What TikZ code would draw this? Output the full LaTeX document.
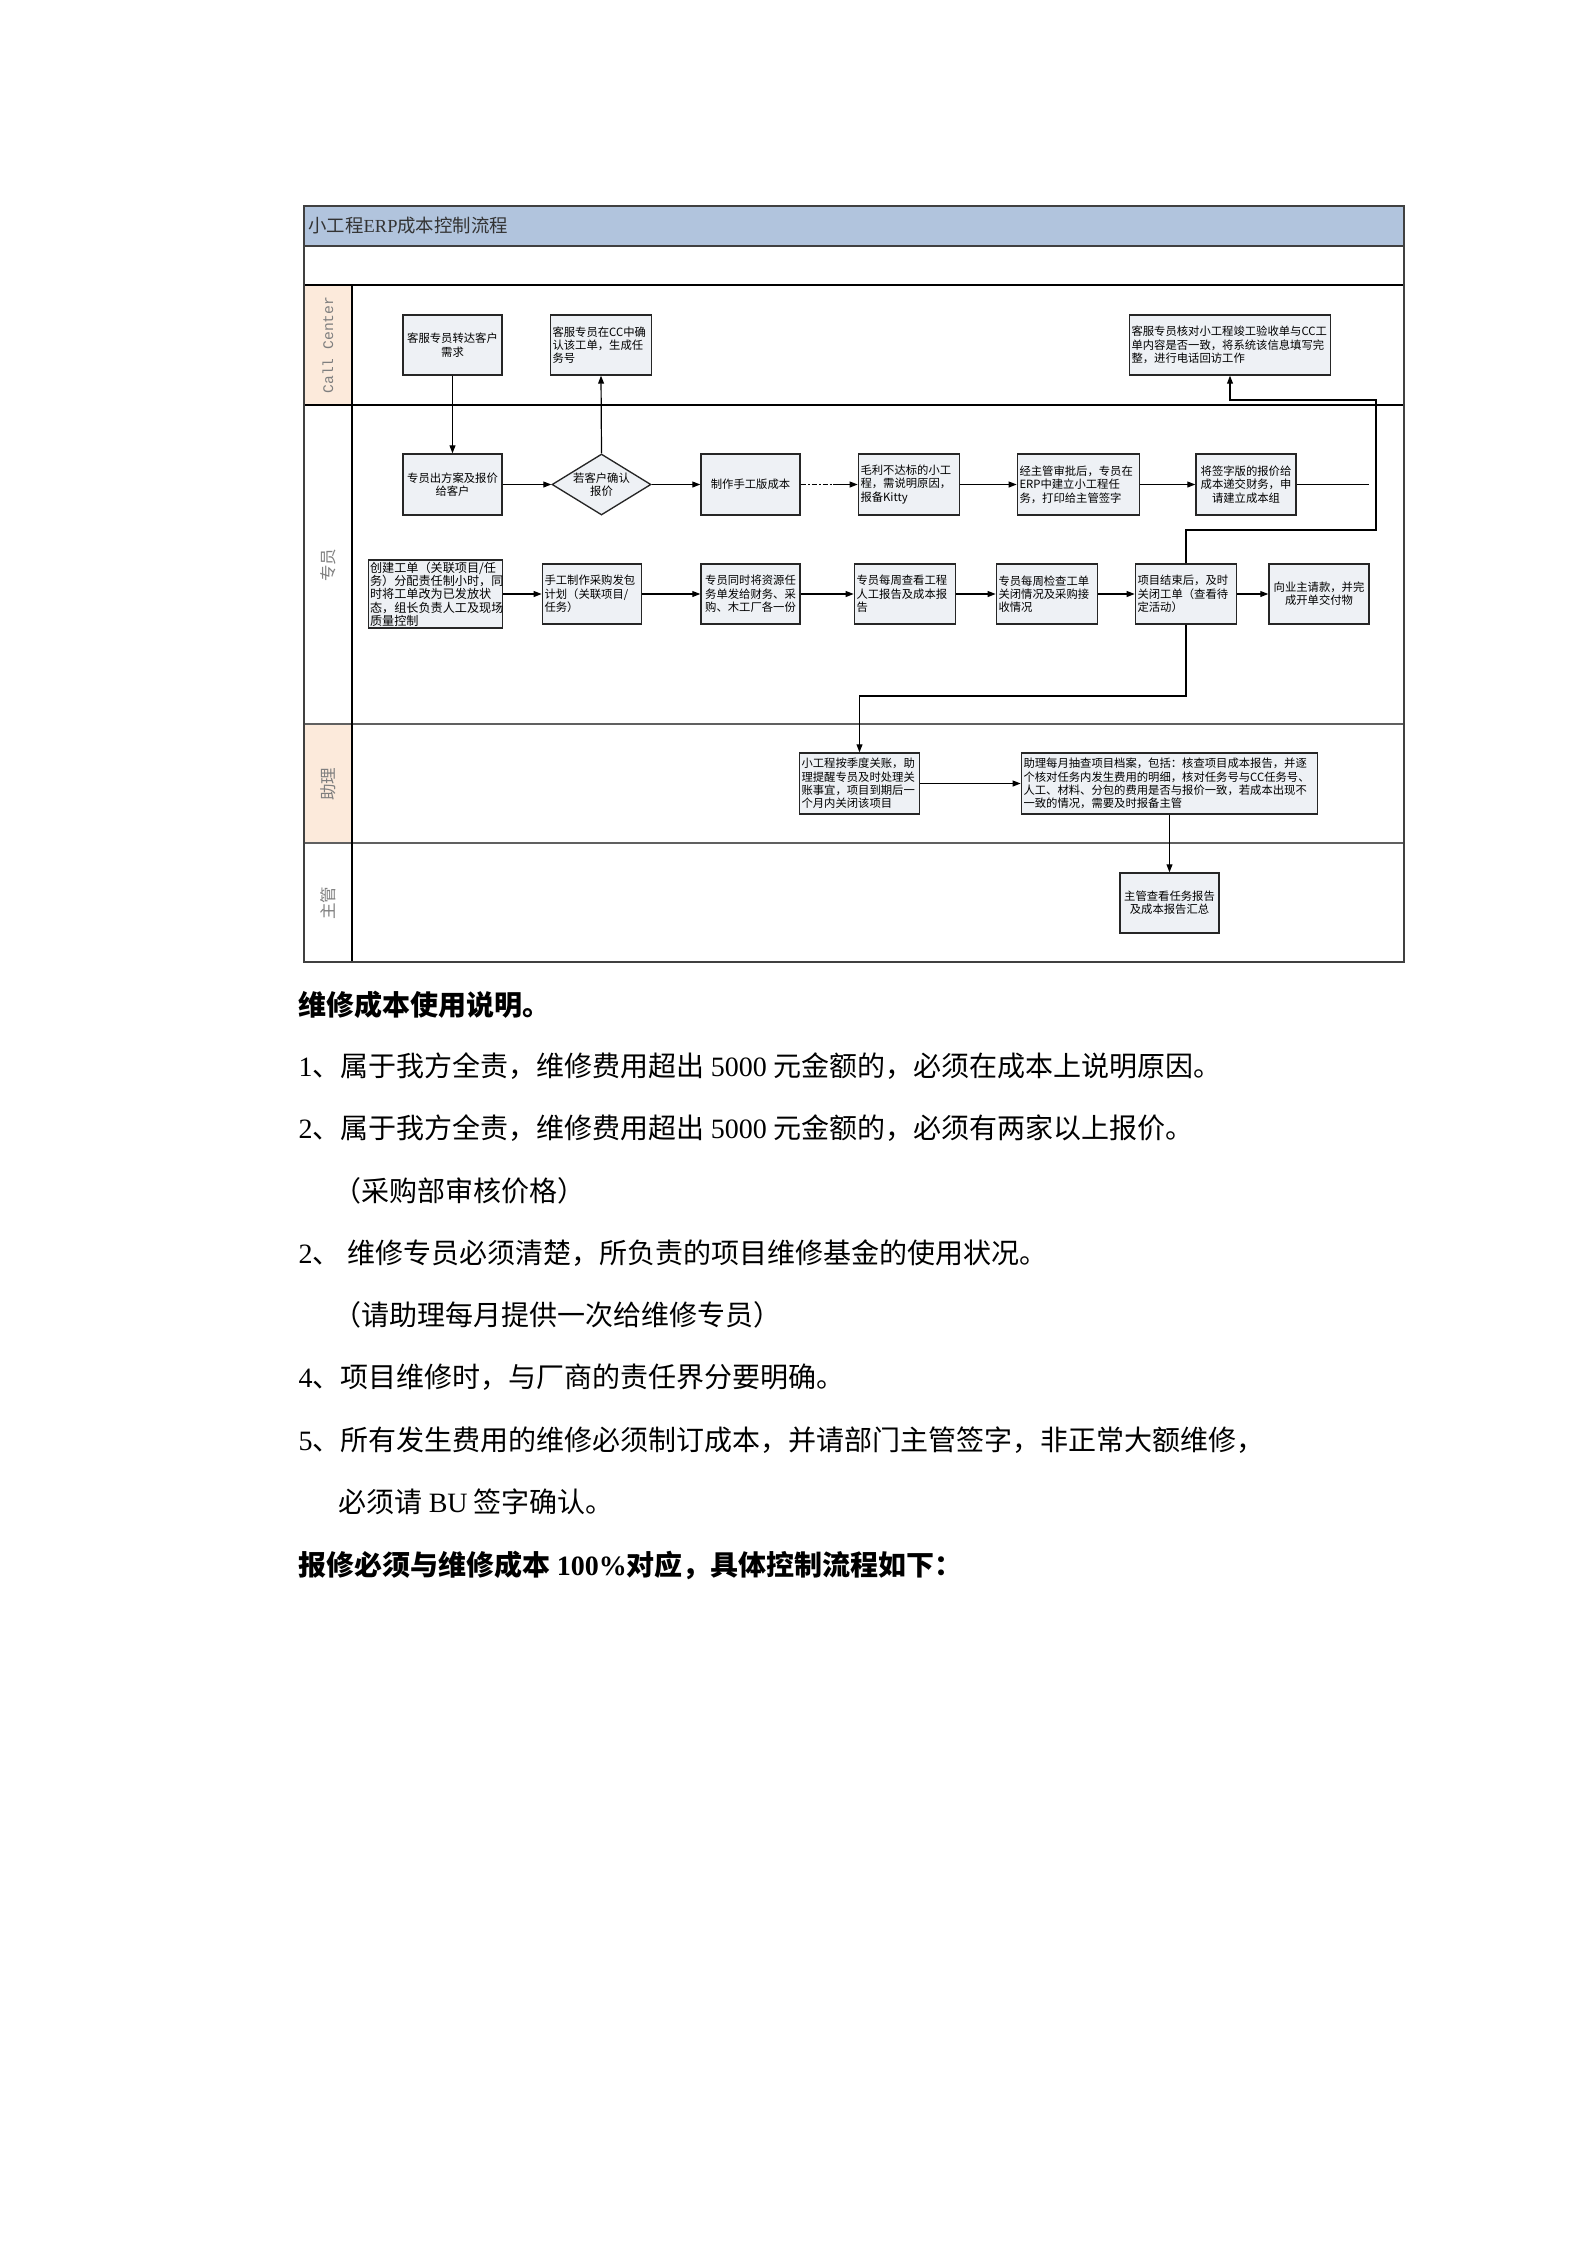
\documentclass[tikz,border=0pt]{standalone}
\usepackage{fontspec}
\setmainfont{Noto Sans CJK SC}
\newfontfamily\lat{Liberation Serif}
\newfontfamily\latmono{Liberation Mono}
\usetikzlibrary{arrows.meta,shapes.geometric}
\definecolor{titlebg}{HTML}{B1C4DD}
\definecolor{peach}{HTML}{FCEADB}
\definecolor{boxbg}{HTML}{EEF1F5}
\definecolor{lanetext}{HTML}{7F7F7F}
\definecolor{framecol}{HTML}{404040}
\definecolor{lanegray}{HTML}{606060}
\begin{document}
\begin{tikzpicture}[x=0.375pt,y=-0.375pt,
  sz/.style 2 args={minimum width=#1*0.375pt,minimum height=#2*0.375pt},
  boxbase/.style={draw=black!85,fill=boxbg,line width=0.5pt,inner sep=0.8pt,font=\fontsize{4.25}{5}\selectfont,text=black},
  cbox/.style={boxbase,align=center},
  lbox/.style={boxbase,align=left,text width=(#1-3)*0.375pt,minimum width=#1*0.375pt},
  lanelab/.style={rotate=90,text=lanetext,font=\fontsize{6.2}{7}\selectfont,inner sep=0},
  conn/.style={line width=0.45pt,draw=black},
  arr/.style={conn,-{Triangle[length=3pt,width=2.2pt]}},
  body/.style={font=\fontsize{10.5}{12}\selectfont,inner sep=0,text=black,anchor=west}]
\useasboundingbox[fill=white] (0,0) rectangle (1587,2245);

% frame and lanes
\fill[titlebg] (304,206) rectangle (1404,246);
\fill[peach] (304,285) rectangle (352,405);
\fill[peach] (304,724) rectangle (352,843);
\draw[framecol,line width=0.6pt] (304,246) -- (1404,246);
\draw[black,line width=0.5pt] (304,285) -- (1404,285);
\draw[black,line width=0.5pt] (304,405) -- (1404,405);
\draw[lanegray,line width=0.5pt] (304,724) -- (1404,724);
\draw[lanegray,line width=0.5pt] (304,843) -- (1404,843);
\draw[black,line width=0.5pt] (352,285) -- (352,962);
\draw[framecol,line width=0.75pt] (304,206) rectangle (1404,962);

\node[anchor=west,inner sep=0,text=black!80,font=\fontsize{6.9}{8}\selectfont] (title) at (308,226) {小工程{\lat ERP}成本控制流程};
\node[lanelab,font=\fontsize{5.5}{6}\latmono] (lcc) at (328,345) {Call Center};
\node[lanelab] (lzy) at (328,565) {专员};
\node[lanelab] (lzl) at (328,784) {助理};
\node[lanelab] (lzg) at (328,903) {主管};

% Call Center lane
\node[cbox,sz={99}{60}] (cc1) at (452.5,345) {客服专员转达客户\\需求};
\node[lbox=100,minimum height=60*0.375pt] (cc2) at (601,345) {客服专员在CC中确\\认该工单，生成任\\务号};
\node[lbox=200,minimum height=60*0.375pt] (cc3) at (1230,345) {客服专员核对小工程竣工验收单与CC工\\单内容是否一致，将系统该信息填写完\\整，进行电话回访工作};

% 专员 lane row 1
\node[cbox,sz={99}{61}] (z1) at (452.5,484.5) {专员出方案及报价\\给客户};
\node[boxbase,shape=diamond,aspect=1.62,inner sep=0pt,align=center,sz={99}{61}] (z2) at (601.5,484.5) {若客户确认\\报价};
\node[cbox,sz={99}{61}] (z3) at (750.5,484.5) {制作手工版成本};
\node[lbox=100,minimum height=61*0.375pt] (z4) at (909,484.5) {毛利不达标的小工\\程，需说明原因，\\报备Kitty};
\node[lbox=121,minimum height=61*0.375pt] (z5) at (1078.5,484.5) {经主管审批后，专员在\\ERP中建立小工程任\\务，打印给主管签字};
\node[cbox,sz={100}{61}] (z6) at (1246,484.5) {将签字版的报价给\\成本递交财务，申\\请建立成本组};

% 专员 lane row 2
\node[lbox=134,minimum height=68*0.375pt,font=\fontsize{4.55}{5}\selectfont,inner sep=0.5pt] (z7) at (435.5,594) {创建工单（关联项目/任\\务）分配责任制小时，同\\时将工单改为已发放状\\态，组长负责人工及现场\\质量控制};
\node[lbox=98,minimum height=60*0.375pt] (z8) at (592,594) {手工制作采购发包\\计划（关联项目/\\任务）};
\node[cbox,sz={99}{60}] (z9) at (750.5,594) {专员同时将资源任\\务单发给财务、采\\购、木工厂各一份};
\node[lbox=100,minimum height=60*0.375pt] (z10) at (905,594) {专员每周查看工程\\人工报告及成本报\\告};
\node[lbox=100,minimum height=60*0.375pt] (z11) at (1047,594) {专员每周检查工单\\关闭情况及采购接\\收情况};
\node[lbox=100,minimum height=60*0.375pt] (z12) at (1186,594) {项目结束后，及时\\关闭工单（查看待\\定活动）};
\node[cbox,sz={100}{60}] (z13) at (1319,594) {向业主请款，并完\\成开单交付物};

% 助理 lane
\node[lbox=119,minimum height=61*0.375pt] (a1) at (859.5,783.5) {小工程按季度关账，助\\理提醒专员及时处理关\\账事宜，项目到期后一\\个月内关闭该项目};
\node[lbox=295,minimum height=61*0.375pt] (a2) at (1169.5,783.5) {助理每月抽查项目档案，包括：核查项目成本报告，并逐\\个核对任务内发生费用的明细，核对任务号与CC任务号、\\人工、材料、分包的费用是否与报价一致，若成本出现不\\一致的情况，需要及时报备主管};

% 主管 lane
\node[cbox,sz={99}{60}] (m1) at (1169.5,903) {主管查看任务报告\\及成本报告汇总};

% connectors
\coordinate (dEnd) at (837,484.5);
\coordinate (z6end) at (1369,484.5);
\coordinate (r1) at (1186,530);
\coordinate (r2) at (1376,530);
\coordinate (r3) at (1376,400);
\coordinate (r4) at (1230,400);
\coordinate (d1) at (1186,696);
\coordinate (d2) at (859.5,696);

\draw[arr] (cc1.south) -- (z1.north);
\draw[arr] (z1.east) -- (z2.west);
\draw[arr] (z2.north) -- (cc2.south);
\draw[arr] (z2.east) -- (z3.west);
\draw[conn,dash pattern=on 2pt off 0.7pt on 0.7pt off 0.7pt] (z3.east) -- (dEnd);
\draw[arr] (dEnd) -- (z4.west);
\draw[arr] (z4.east) -- (z5.west);
\draw[arr] (z5.east) -- (z6.west);
\draw[conn] (z6.east) -- (z6end);
\draw[arr] (z7.east) -- (z8.west);
\draw[arr] (z8.east) -- (z9.west);
\draw[arr] (z9.east) -- (z10.west);
\draw[arr] (z10.east) -- (z11.west);
\draw[arr] (z11.east) -- (z12.west);
\draw[arr] (z12.east) -- (z13.west);
\draw[arr] (z12.north) -- (r1) -- (r2) -- (r3) -- (r4) -- (cc3.south);
\draw[arr] (z12.south) -- (d1) -- (d2) -- (a1.north);
\draw[arr] (a1.east) -- (a2.west);
\draw[arr] (a2.south) -- (m1.north);

% text below
\node[body] (t0) at (298,1005) {\bfseries 维修成本使用说明。};
\node[body] (t1) at (298,1066) {{\lat 1}、属于我方全责，维修费用超出 {\lat 5000} 元金额的，必须在成本上说明原因。};
\node[body] (t2) at (298,1128) {{\lat 2}、属于我方全责，维修费用超出 {\lat 5000} 元金额的，必须有两家以上报价。};
\node[body] (t3) at (333,1191) {（采购部审核价格）};
\node[body] (t4) at (298,1253) {{\lat 2}、\kern2.6pt 维修专员必须清楚，所负责的项目维修基金的使用状况。};
\node[body] (t5) at (333,1315) {（请助理每月提供一次给维修专员）};
\node[body] (t6) at (298,1377) {{\lat 4}、项目维修时，与厂商的责任界分要明确。};
\node[body] (t7) at (298,1440) {{\lat 5}、所有发生费用的维修必须制订成本，并请部门主管签字，非正常大额维修，};
\node[body] (t8) at (338,1502) {必须请 {\lat BU} 签字确认。};
\node[body] (t9) at (298,1565) {\bfseries 报修必须与维修成本 {\lat 100\%}对应，具体控制流程如下：};
\end{tikzpicture}
\end{document}
